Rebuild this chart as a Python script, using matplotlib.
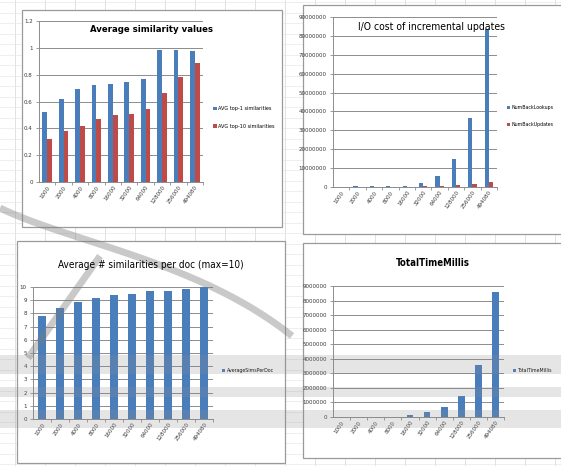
import numpy as np
import matplotlib
matplotlib.use("Agg")
import matplotlib.pyplot as plt
from matplotlib.patches import Rectangle

# ===================== data =====================
sizes = ["1000", "2000", "4000", "8000", "16000", "32000",
         "64000", "128000", "256000", "494080"]

avg_top1 = [0.52, 0.62, 0.69, 0.72, 0.73, 0.745, 0.77, 0.985, 0.985, 0.975]
avg_top10 = [0.32, 0.38, 0.42, 0.47, 0.50, 0.51, 0.545, 0.66, 0.78, 0.89]

back_lookups = [200000, 300000, 300000, 400000, 700000, 2100000,
                5800000, 15000000, 36500000, 83800000]
back_updates = [100000, 100000, 100000, 150000, 250000, 400000,
                700000, 1000000, 1800000, 2600000]

sims_per_doc = [7.77, 8.4, 8.85, 9.2, 9.37, 9.48, 9.66, 9.72, 9.87, 10.0]

total_time = [4000, 6000, 9000, 15000, 160000, 320000,
              660000, 1450000, 3570000, 8560000]

BLUE = "#4A7EBB"
RED = "#BE4B48"
W, H = 561, 466

plt.rcParams["font.family"] = ["DejaVu Sans"]
plt.rcParams["font.stretch"] = "condensed"

fig = plt.figure(figsize=(W / 100, H / 100), dpi=100)


def px_rect(x0, y0, x1, y1):
    # pixel box (top-left origin) -> figure fraction
    return [x0 / W, 1 - y1 / H, (x1 - x0) / W, (y1 - y0) / H]


# ---------- spreadsheet background ----------
bg = fig.add_axes([0, 0, 1, 1])
bg.set_xlim(0, W)
bg.set_ylim(H, 0)
bg.axis("off")
for x in np.arange(15, W, 30):
    bg.axvline(x, color="#dcdcdc", lw=0.6, zorder=0)
for y in np.arange(2, H, 10.5):
    bg.axhline(y, color="#e8e8e8", lw=0.5, zorder=0)

for (x0, y0, x1, y1) in [(22, 10, 282, 227), (303, 5, 566, 234),
                         (17, 241, 285, 463), (303, 243, 566, 458)]:
    bg.add_patch(Rectangle((x0, y0), x1 - x0, y1 - y0, facecolor="white",
                           edgecolor="#9a9a9a", lw=0.9, zorder=1))


def style_axes(ax, ymax, step, fmt):
    ax.set_facecolor("none")
    for s in ["top", "right"]:
        ax.spines[s].set_visible(False)
    for s in ["left", "bottom"]:
        ax.spines[s].set_color("#8c8c8c")
        ax.spines[s].set_linewidth(0.7)
    ax.set_ylim(0, ymax)
    ticks = np.arange(0, ymax + step / 2, step)
    ax.set_yticks(ticks)
    ax.set_yticklabels([fmt(t) for t in ticks])
    ax.yaxis.grid(True, color="#8c8c8c", lw=0.7)
    ax.set_axisbelow(True)
    ax.set_xlim(-0.5, len(sizes) - 0.5)
    ax.set_xticks(np.arange(len(sizes)) + 0.5, minor=True)
    ax.set_xticks(np.arange(len(sizes)))
    ax.set_xticklabels(sizes, rotation=55, ha="right", rotation_mode="anchor")
    ax.tick_params(axis="both", which="both", length=2.5, width=0.6,
                   color="#8c8c8c", labelsize=4.4, labelcolor="#3a3a3a",
                   pad=2)
    ax.tick_params(axis="x", which="major", length=0)


def legend_at(ax, handles, labels, x, y, size=4.0):
    ax.legend(handles, labels, loc="upper left",
              bbox_to_anchor=(x / W, 1 - y / H), bbox_transform=fig.transFigure,
              frameon=False, handlelength=0.6, handleheight=0.6,
              handletextpad=0.3, labelspacing=2.3, borderaxespad=0,
              prop={"size": size, "stretch": "condensed"})


x = np.arange(len(sizes))

# ---------- top-left: average similarity values ----------
ax1 = fig.add_axes(px_rect(39, 21, 203, 182))
style_axes(ax1, 1.2, 0.2, lambda t: f"{t:g}")
b1 = ax1.bar(x - 0.145, avg_top1, width=0.29, color=BLUE)
b2 = ax1.bar(x + 0.145, avg_top10, width=0.29, color=RED)
fig.text(152 / W, 1 - 30 / H, "Average similarity values", ha="center",
         va="center", fontsize=6.8, fontweight="bold")
legend_at(ax1, [b1, b2], ["AVG top-1 similarities", "AVG top-10 similarities"],
          211, 104)

# ---------- top-right: I/O cost ----------
ax2 = fig.add_axes(px_rect(333, 17, 497, 187))
style_axes(ax2, 90000000, 10000000, lambda t: f"{int(t)}")
b3 = ax2.bar(x - 0.13, back_lookups, width=0.26, color=BLUE)
b4 = ax2.bar(x + 0.13, back_updates, width=0.26, color=RED)
fig.text(431 / W, 1 - 27 / H, "I/O cost of incremental updates", ha="center",
         va="center", fontsize=7.5)
legend_at(ax2, [b3, b4], ["NumBackLookups", "NumBackUpdates"], 505, 103, 3.8)

# ---------- bottom-left: similarities per doc ----------
ax3 = fig.add_axes(px_rect(33, 287, 213, 419))
style_axes(ax3, 10, 1, lambda t: f"{int(t)}")
b5 = ax3.bar(x, sims_per_doc, width=0.4, color=BLUE)
fig.text(151 / W, 1 - 265 / H, "Average # similarities per doc (max=10)",
         ha="center", va="center", fontsize=7.2)
legend_at(ax3, [b5], ["AverageSimsPerDoc"], 220, 366, 3.8)

# ---------- bottom-right: total time ----------
ax4 = fig.add_axes(px_rect(333, 286, 504, 417))
style_axes(ax4, 9000000, 1000000, lambda t: f"{int(t)}")
b6 = ax4.bar(x, total_time, width=0.4, color=BLUE)
fig.text(433 / W, 1 - 263 / H, "TotalTimeMillis", ha="center", va="center",
         fontsize=6.9, fontweight="bold")
legend_at(ax4, [b6], ["TotalTimeMillis"], 511, 366, 3.8)

# ---------- translucent publisher overlay ----------
ov = fig.add_axes([0, 0, 1, 1])
ov.set_xlim(0, W)
ov.set_ylim(H, 0)
ov.axis("off")
ov.set_facecolor("none")
t = np.linspace(0, 1, 80)[:, None]
p0, p1, p2, p3 = (np.array(p) for p in [(0, 208), (70, 242), (200, 262), (292, 336)])
curve = ((1 - t) ** 3) * p0 + 3 * ((1 - t) ** 2) * t * p1 + 3 * (1 - t) * t ** 2 * p2 + t ** 3 * p3
ov.plot(curve[:, 0], curve[:, 1], color="#7a7a7a", lw=5, alpha=0.4,
        solid_capstyle="butt")
ov.plot([28, 100], [358, 256], color="#7a7a7a", lw=5, alpha=0.4,
        solid_capstyle="butt")
for (x0, y0, x1, y1) in [(0, 355, 561, 374), (0, 387, 561, 397),
                         (0, 410, 561, 428)]:
    ov.add_patch(Rectangle((x0, y0), x1 - x0, y1 - y0, facecolor="#8a8a8a",
                           edgecolor="none", alpha=0.22))

fig.savefig("out.png", dpi=100)
